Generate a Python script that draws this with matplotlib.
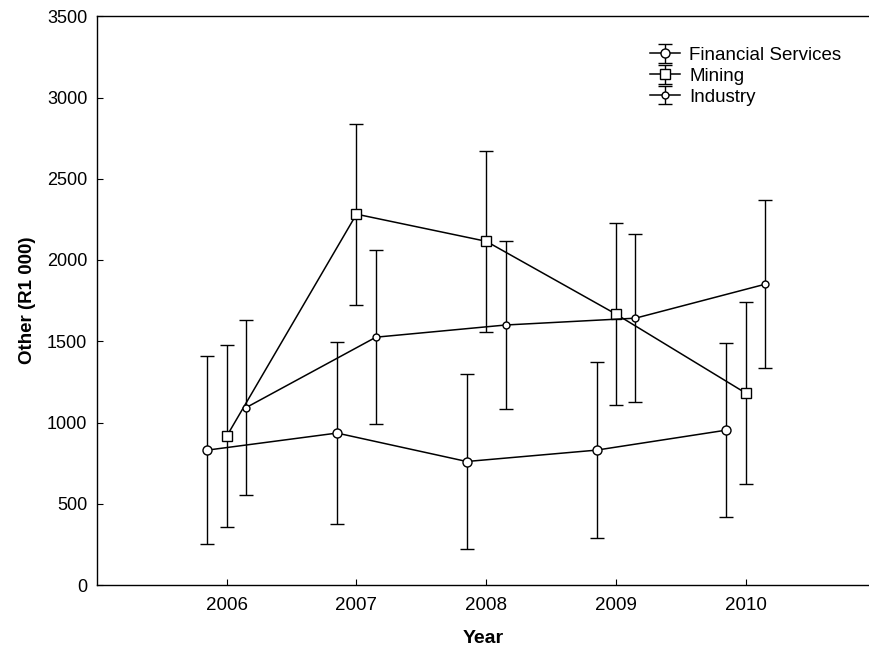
import matplotlib
matplotlib.use('Agg')
import matplotlib.pyplot as plt
import numpy as np

years = [2006, 2007, 2008, 2009, 2010]

fin_mean = [830, 935, 760, 830, 953]
fin_err = [580, 560, 540, 540, 535]

min_mean = [916, 2282, 2115, 1667, 1181]
min_err = [558, 556, 555, 560, 560]

ind_mean = [1092, 1525, 1600, 1642, 1851]
ind_err = [538, 535, 515, 517, 517]

plt.rcParams['font.family'] = ['Liberation Sans', 'DejaVu Sans']

fig = plt.figure(figsize=(8.69, 6.5), dpi=100)
ax = fig.add_axes([0.1116, 0.1, 0.8884, 0.875])

x = np.array(years, dtype=float)
style = dict(color='black', lw=1.1, elinewidth=1.0, capsize=5, capthick=1.0,
             markerfacecolor='white', markeredgecolor='black', markeredgewidth=1.0)

ax.errorbar(x - 0.15, fin_mean, yerr=fin_err, fmt='-o', ms=6.5, label='Financial Services', **style)
ax.errorbar(x, min_mean, yerr=min_err, fmt='-s', ms=6.5, label='Mining', **style)
ax.errorbar(x + 0.15, ind_mean, yerr=ind_err, fmt='-o', ms=5, label='Industry', **style)

ax.set_xlim(2005, 2010.95)
ax.set_ylim(0, 3500)
ax.set_xticks(years)
ax.set_yticks(np.arange(0, 3501, 500))
ax.tick_params(direction='in', length=4, width=0.8, labelsize=13)
ax.tick_params(axis='x', labelsize=13.5, pad=9)
ax.tick_params(axis='y', pad=7)
ax.spines['right'].set_visible(False)
for s in ['left', 'top', 'bottom']:
    ax.spines[s].set_linewidth(1.0)

ax.set_xlabel('Year', fontsize=14, fontweight='bold', labelpad=11)
ax.set_ylabel('Other (R1 000)', fontsize=13.5, fontweight='bold', labelpad=8)

ax.legend(loc='upper left', frameon=False, fontsize=13.5, handlelength=1.6,
          handletextpad=0.5, labelspacing=0.2, borderpad=0, borderaxespad=0,
          bbox_to_anchor=(0.748, 0.928), bbox_transform=fig.transFigure)

fig.savefig('out.png', dpi=100)
